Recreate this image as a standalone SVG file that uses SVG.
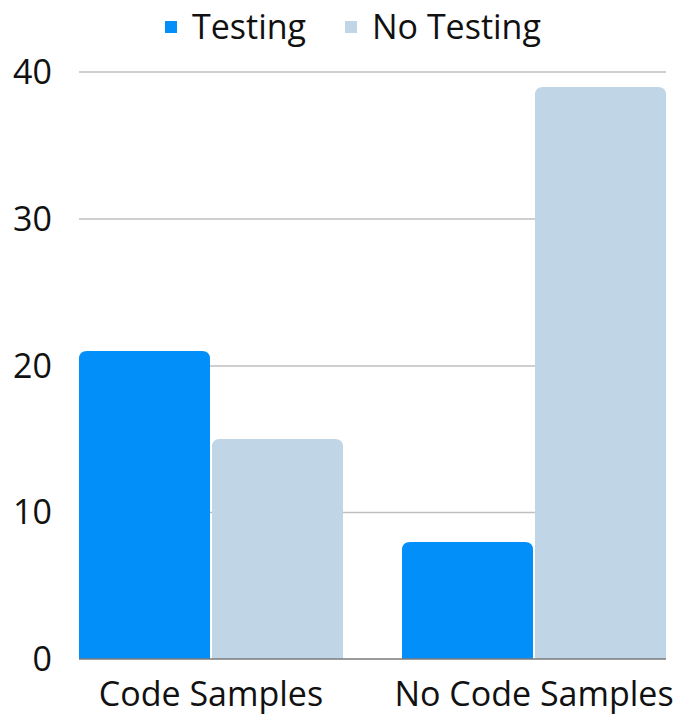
<svg xmlns="http://www.w3.org/2000/svg" width="680" height="717" viewBox="0 0 680 717">
<style>
text{font-family:"Open Sans","Noto Sans","Liberation Sans",sans-serif;font-size:34px;fill:#111}
.ytick{text-anchor:end}
.xlab{text-anchor:middle}
.grid{stroke:#bfbfbf;stroke-width:1.5;fill:none}
.base{stroke:#7a7a7a;stroke-width:1.5;fill:none}
.t{fill:#038ff9}
.nt{fill:#c0d5e5}
</style>
<rect width="680" height="717" fill="#fff"/>
<g id="gridlines">
<line class="grid" x1="79" y1="72" x2="666" y2="72"/>
<line class="grid" x1="79" y1="219" x2="666" y2="219"/>
<line class="grid" x1="79" y1="366" x2="666" y2="366"/>
<line class="grid" x1="79" y1="512.5" x2="666" y2="512.5"/>
</g>
<g id="y-axis">
<text class="ytick" x="52" y="84">40</text>
<text class="ytick" x="52" y="231">30</text>
<text class="ytick" x="52" y="378">20</text>
<text class="ytick" x="52" y="524">10</text>
<text class="ytick" x="52" y="671">0</text>
</g>
<g id="bar-code-testing"><path class="t" d="M79,659V359Q79,351 87,351H202Q210,351 210,359V659Z"/></g>
<g id="bar-code-notesting"><path class="nt" d="M212,659V447Q212,439 220,439H335Q343,439 343,447V659Z"/></g>
<g id="bar-nocode-testing"><path class="t" d="M402,659V550Q402,542 410,542H525Q533,542 533,550V659Z"/></g>
<g id="bar-nocode-notesting"><path class="nt" d="M535,659V95Q535,87 543,87H658Q666,87 666,95V659Z"/></g>
<g id="baseline"><line class="base" x1="79" y1="659" x2="666" y2="659"/></g>
<g id="x-axis">
<text class="xlab" x="211" y="706">Code Samples</text>
<text class="xlab" x="534" y="706">No Code Samples</text>
</g>
<g id="legend">
<rect class="t" x="165" y="21" width="12" height="12"/>
<text x="192" y="39">Testing</text>
<rect class="nt" x="345" y="21" width="12" height="12"/>
<text x="372" y="39">No Testing</text>
</g>
</svg>
